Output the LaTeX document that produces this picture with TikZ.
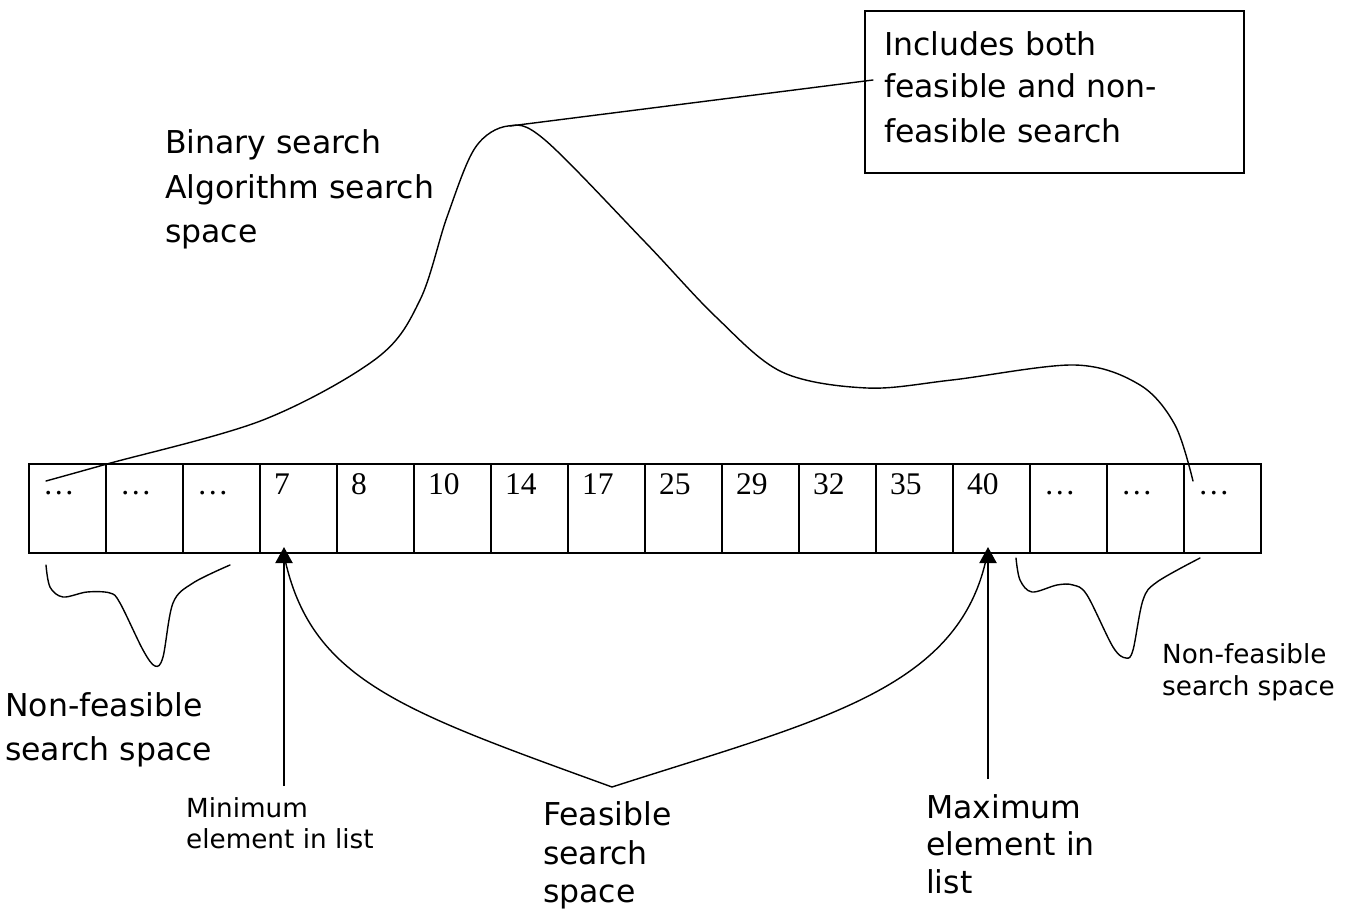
\documentclass[tikz,border=0pt]{standalone}
\usepackage{fontspec}
\setmainfont{DejaVu Sans}
\newfontfamily\tnr{Liberation Serif}
\usetikzlibrary{arrows.meta}
\tikzset{
  cell/.style={draw, line width=1.8pt, minimum width=77pt, minimum height=89pt, inner sep=0pt, outer sep=0pt},
  num/.style={anchor=base west, inner sep=0pt, font=\tnr\fontsize{31.5}{38}\selectfont},
  big/.style={anchor=base west, inner sep=0pt, font=\fontsize{31.5}{38}\selectfont},
  small/.style={anchor=base west, inner sep=0pt, font=\fontsize{26.25}{32}\selectfont},
  curve/.style={line width=1.4pt, line cap=round},
  ptr/.style={line width=2.1pt, -{Triangle[length=16pt,width=17pt]}},
  callout/.style={draw, line width=2.2pt, minimum width=379pt, minimum height=162pt, inner sep=0pt},
}
\begin{document}
\begin{tikzpicture}[x=1pt,y=-1pt]
\useasboundingbox (0,0) rectangle (1355,911);

% array cells
\foreach \v [count=\i] in {…,…,…,7,8,10,14,17,25,29,32,35,40,…,…,…}{
  \node[cell] (c\i) at ({29+77*(\i-0.5)},508.5) {};
  \node[num] (t\i) at ({29+77*(\i-1)+14},494) {\v};
}

% callout box
\node[callout] (box) at (1054.5,92) {};
\node[big] (b1) at (884,55) {Includes both};
\node[big] (b2) at (884,97) {feasible and non-};
\node[big] (b3) at (884,142) {feasible search};

% binary search label
\node[big] (l1) at (165,153) {Binary search};
\node[big] (l2) at (165,198) {Algorithm search};
\node[big] (l3) at (165,242) {space};

% big curve
\coordinate (peak) at (510,126);
\coordinate (boxlink) at (873,80);
\draw[curve] plot[smooth, tension=0.55] coordinates {(46,481) (107,464) (263,420) (377,358) (420,300) (447,217) (475,148) (508,126) (545,140) (645,242) (716,317) (782,372) (867,388) (952,380) (1075,365) (1140,385) (1175,425) (1193,481)};
\draw[curve] (peak) -- (boxlink);

% left non-feasible
\draw[curve] plot[smooth, tension=0.55] coordinates {(46,565) (50,587) (63,597) (87,592) (110,593) (120,603) (143,650) (155,666) (163,657) (173,603) (193,583) (230,565)};
\node[big] (n1) at (5,716) {Non-feasible};
\node[big] (n2) at (5,760) {search space};

% right non-feasible
\draw[curve] plot[smooth, tension=0.55] coordinates {(1016,558) (1020,580) (1032,592) (1057,585) (1073,585) (1087,595) (1113,647) (1126,658) (1133,650) (1143,600) (1157,582) (1200,558)};
\node[small] (r1) at (1162,663) {Non-feasible};
\node[small] (r2) at (1162,695) {search space};

% feasible curve
\coordinate (fL) at (284,555);
\coordinate (fV) at (612,787);
\coordinate (fR) at (987,555);
\draw[curve] (fL) .. controls (310,680) and (400,710) .. (fV) .. controls (820,720) and (960,690) .. (fR);
\node[big] (f1) at (543,825) {Feasible};
\node[big] (f2) at (543,864) {search};
\node[big] (f3) at (543,902) {space};

% min / max arrows
\coordinate (minbot) at (284,786);
\coordinate (mintip) at (284,547);
\coordinate (maxbot) at (988,779);
\coordinate (maxtip) at (988,547);
\draw[ptr] (minbot) -- (mintip);
\draw[ptr] (maxbot) -- (maxtip);
\node[small] (m1) at (186,817) {Minimum};
\node[small] (m2) at (186,848) {element in list};
\node[big] (x1) at (926,818) {Maximum};
\node[big] (x2) at (926,855) {element in};
\node[big] (x3) at (926,893) {list};
\end{tikzpicture}
\end{document}
